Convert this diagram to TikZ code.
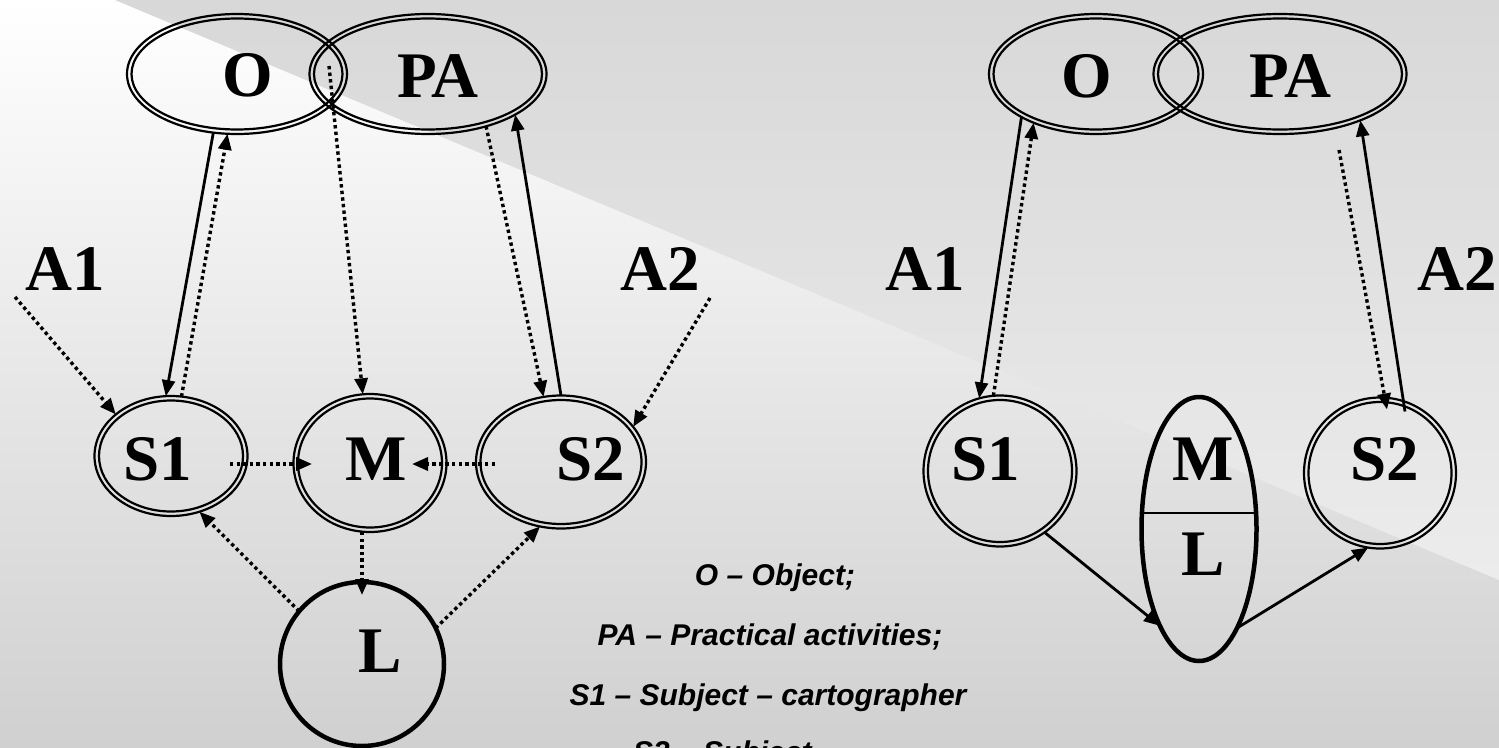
\documentclass[tikz,border=0pt]{standalone}
\usepackage{fontspec}
\setmainfont{Liberation Serif}
\newfontfamily\legendfont{Liberation Sans}
\usetikzlibrary{arrows.meta,shapes.geometric,calc}
\definecolor{bgbottom}{HTML}{D0D0D0}
\definecolor{bandtop}{HTML}{D8D8D8}
\definecolor{bandbot}{HTML}{ECECEC}
\begin{document}
\begin{tikzpicture}[x=1pt,y=-1pt,
  ring/.style={ellipse, draw, line width=2.2pt, inner sep=0pt, outer sep=0pt},
  thickring/.style={ellipse, draw, line width=4.5pt, inner sep=0pt, outer sep=0pt},
  lbl/.style={anchor=base, inner sep=0pt, font=\fontsize{65}{65}\selectfont\bfseries},
  legend/.style={anchor=base, inner sep=0pt, font=\legendfont\fontsize{30}{36}\selectfont\bfseries\itshape},
  solidarrow/.style={line width=2.8pt, -{Triangle[length=16pt,width=13pt]}},
  dotarrow/.style={line width=3.4pt, dash pattern=on 3.4pt off 3.2pt, -{Triangle[length=16pt,width=13pt]}}
]
\useasboundingbox (0,0) rectangle (1499,747);
\clip (0,0) rectangle (1499,747);
% background
\shade[top color=white, bottom color=bgbottom] (0,0) rectangle (1499,747);
\shade[top color=bandtop, bottom color=bandbot] (115,0) -- (1499,0) -- (1499,580) -- cycle;

% ---------- left diagram ----------
\node[ring, minimum width=220pt, minimum height=120pt] (O1) at (237,74) {};
\node[ring, minimum width=211pt, minimum height=111pt] (O1i) at (237,74) {};
\node[ring, minimum width=237pt, minimum height=120pt] (PA1) at (428,74) {};
\node[ring, minimum width=228pt, minimum height=111pt] (PA1i) at (428,74) {};
\node[ring, minimum width=153pt, minimum height=120pt] (S1) at (171,456) {};
\node[ring, minimum width=144pt, minimum height=111pt] (S1i) at (171,456) {};
\node[ring, minimum width=153pt, minimum height=138pt] (M) at (370,463) {};
\node[ring, minimum width=144pt, minimum height=129pt] (Mi) at (370,463) {};
\node[ring, minimum width=170pt, minimum height=133pt] (S2) at (561,462) {};
\node[ring, minimum width=161pt, minimum height=124pt] (S2i) at (561,462) {};
\node[thickring, minimum width=164pt, minimum height=164pt] (L) at (362,664) {};

\node[lbl] (tO1) at (248,96) {O};
\node[lbl] (tPA1) at (438,97) {PA};
\node[lbl] (tS1) at (158,480) {S1};
\node[lbl] (tM) at (376,480) {M};
\node[lbl] (tS2) at (591,480) {S2};
\node[lbl] (tL) at (380,672) {L};
\node[lbl] (tA1) at (65,290) {A1};
\node[lbl] (tA2) at (660,290) {A2};

\coordinate (a1s) at (15,297);
\coordinate (a2s) at (710,298);
\coordinate (lens) at (329,66);

\draw[dotarrow] (a1s) -- (S1.143.9);
\draw[dotarrow] (a2s) -- (S2.26.9);
\draw[solidarrow] (O1.248.5) -- (S1.95.6);
\draw[dotarrow] (S1.80.5) -- (O1.261.9);
\draw[dotarrow] (lens) -- (M.96.5);
\draw[dotarrow] (PA1.318.6) -- (S2.105.8);
\draw[solidarrow] (S2.90.9) -- (PA1.335.9);
\draw[dotarrow] ([xshift=-17.5pt,yshift=-8pt]S1.east) -- ([xshift=18.5pt,yshift=-1pt]M.west);
\draw[dotarrow] ([xshift=19pt,yshift=-2pt]S2.west) -- ([xshift=-34.5pt,yshift=-1pt]M.east);
\draw[dotarrow] (L.north |- M.south) -- ([yshift=-13pt]L.north);
\draw[dotarrow] (L.140.8) -- (S1.297);
\draw[dotarrow] (L.26.6) -- (S2.252);

% ---------- right diagram ----------
\node[ring, minimum width=214pt, minimum height=120pt] (O2) at (1096,74) {};
\node[ring, minimum width=205pt, minimum height=111pt] (O2i) at (1096,74) {};
\node[ring, minimum width=253pt, minimum height=120pt] (PA2) at (1280,74) {};
\node[ring, minimum width=244pt, minimum height=111pt] (PA2i) at (1280,74) {};
\node[ring, minimum width=153pt, minimum height=151pt] (S1r) at (1000,471) {};
\node[ring, minimum width=144pt, minimum height=142pt] (S1ri) at (1000,471) {};
\node[ring, minimum width=152pt, minimum height=151pt] (S2r) at (1380,473) {};
\node[ring, minimum width=143pt, minimum height=142pt] (S2ri) at (1380,473) {};
\node[thickring, minimum width=115pt, minimum height=264pt] (ML) at (1199,529) {};
\begin{scope}
  \clip (ML.center) ellipse [x radius=57.5, y radius=132];
  \draw[line width=2pt] (1130,513) -- (1270,513);
\end{scope}

\node[lbl] (tO2) at (1087,97) {O};
\node[lbl] (tPA2) at (1290,97) {PA};
\node[lbl] (tS1r) at (986,480) {S1};
\node[lbl] (tMr) at (1203,480) {M};
\node[lbl] (tLr) at (1203,575) {L};
\node[lbl] (tS2r) at (1385,480) {S2};
\node[lbl] (tA1r) at (925,290) {A1};
\node[lbl] (tA2r) at (1457,290) {A2};

\coordinate (pa2s) at (1339,150);
\draw[solidarrow] (O2.210.5) -- (S1r.106.1);
\draw[dotarrow] (S1r.95.1) -- (O2.218.2);
\draw[dotarrow] (pa2s) -- ([xshift=7pt,yshift=-12pt]S2r.north);
\draw[solidarrow] ([xshift=25pt,yshift=-14pt]S2r.north) -- (PA2.330.6);
\draw[solidarrow] (S1r.306) -- (ML.248.5);
\draw[solidarrow] (ML.291.1) -- (S2r.261.7);

% ---------- legend ----------
\node[legend] (lg1) at (775,585) {O – Object;};
\node[legend] (lg2) at (770,645) {PA – Practical activities;};
\node[legend] (lg3) at (768,705) {S1 – Subject – cartographer};
\node[legend, anchor=base west] (lg4) at (633,762) {S2 – Subject –};
\end{tikzpicture}
\end{document}
